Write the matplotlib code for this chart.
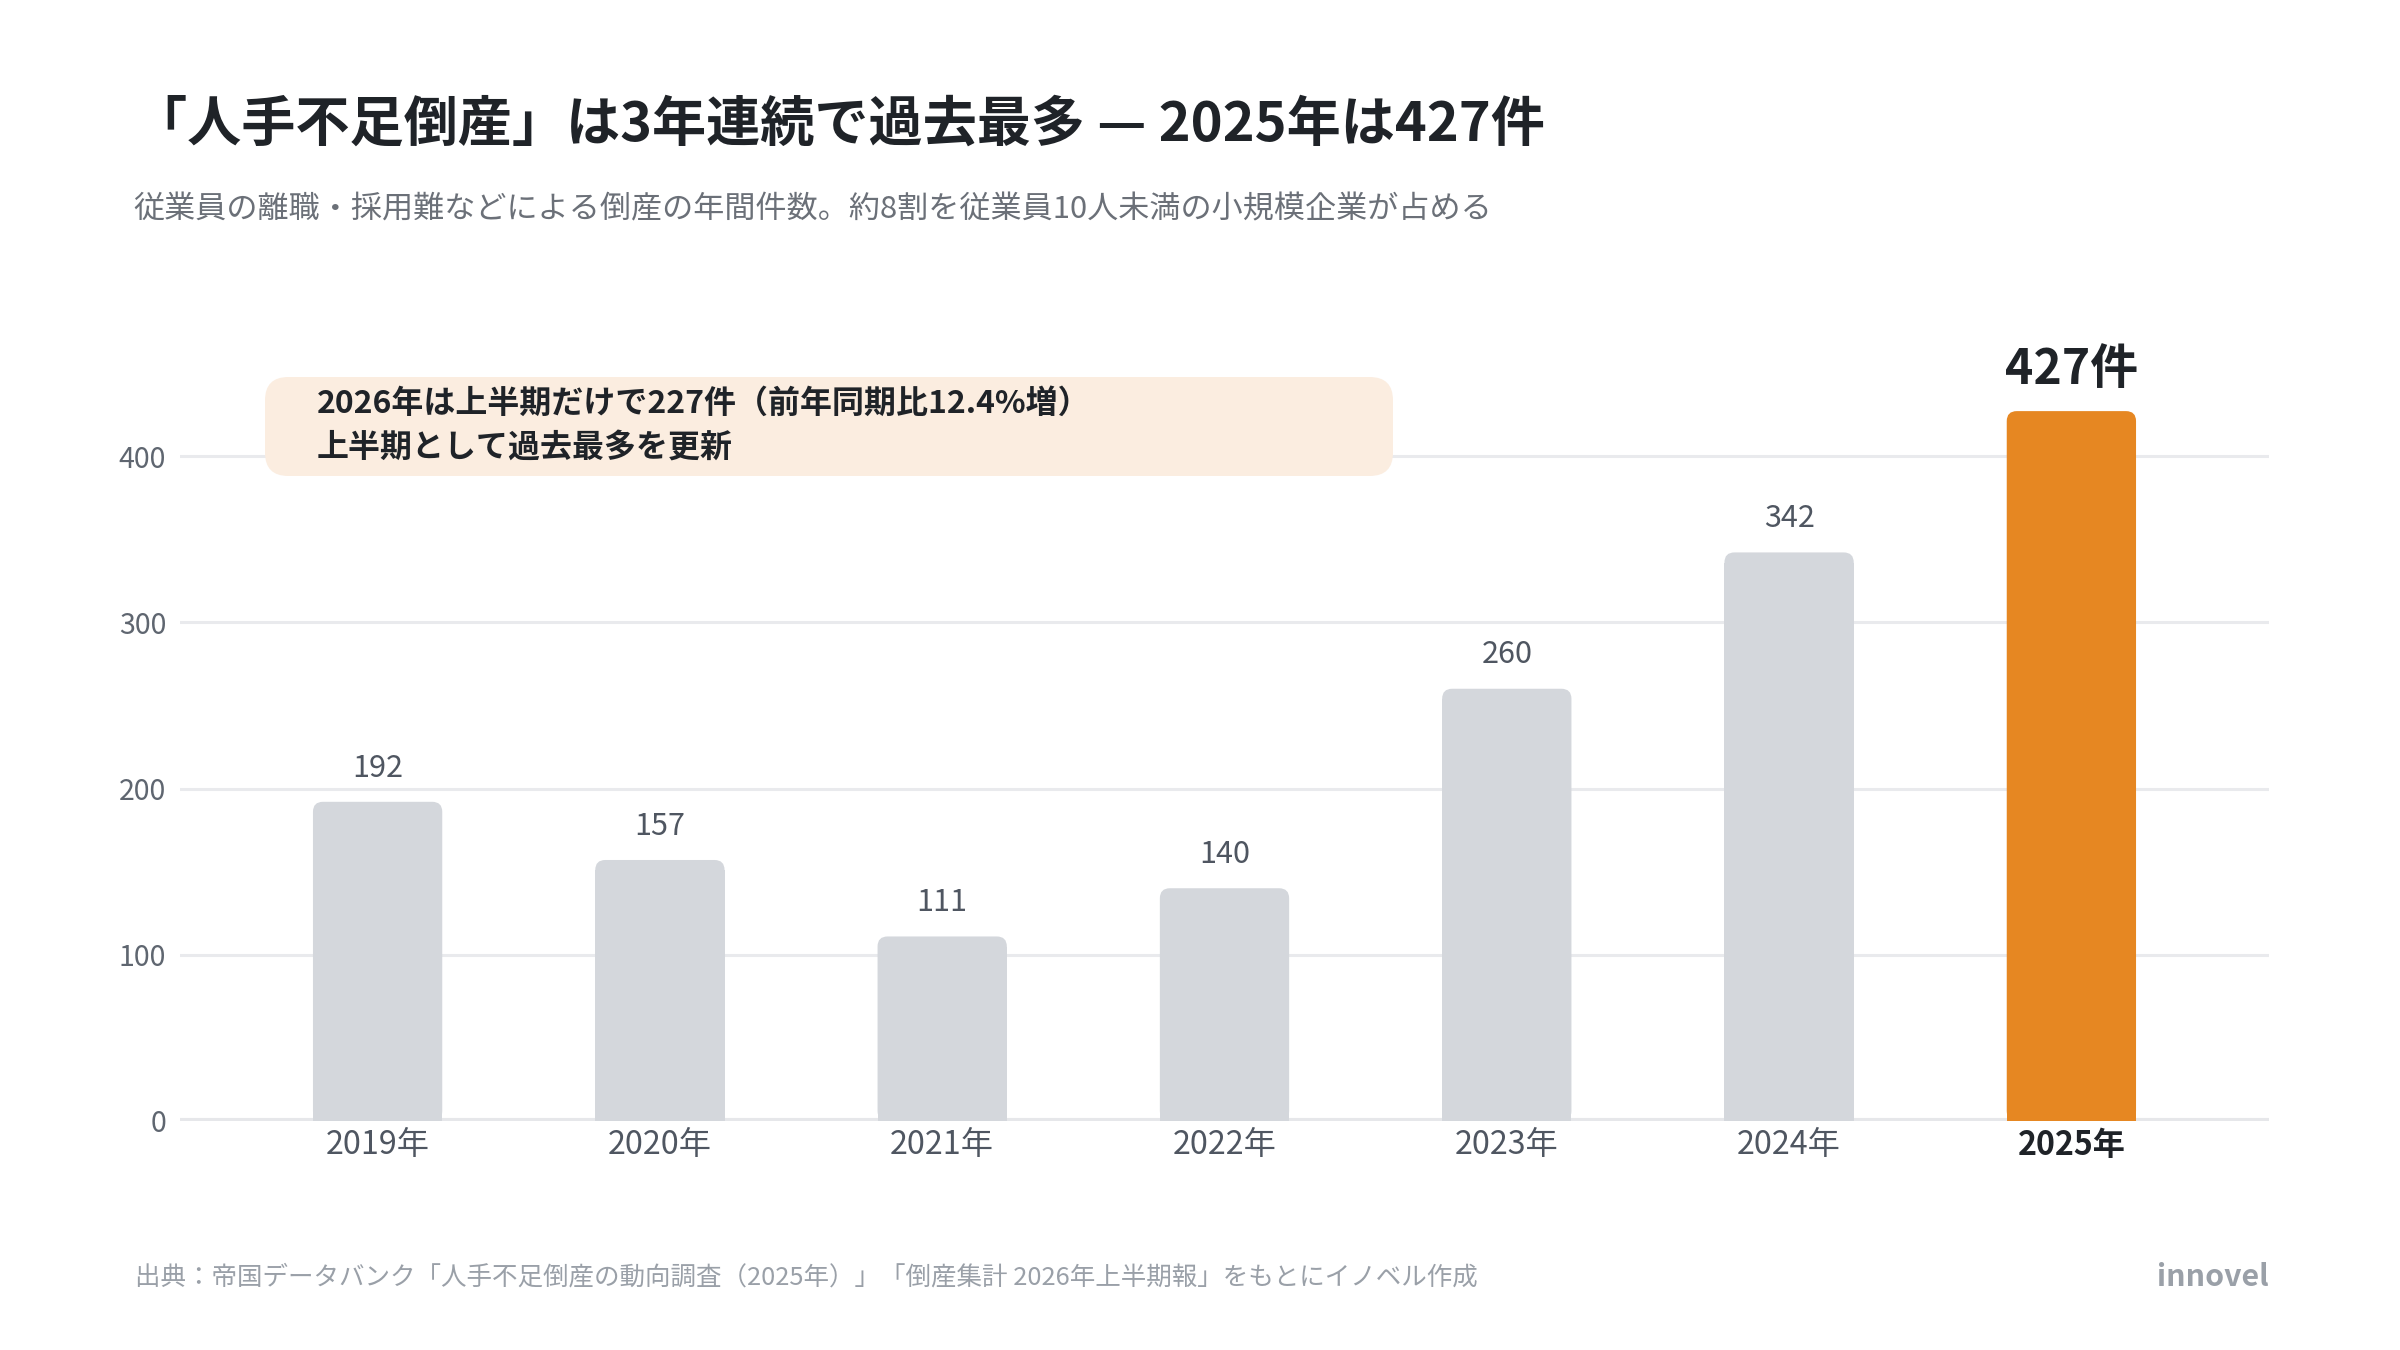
import matplotlib
matplotlib.use("Agg")
import matplotlib.pyplot as plt
from matplotlib.patches import FancyBboxPatch

years = ["2019年", "2020年", "2021年", "2022年", "2023年", "2024年", "2025年"]
counts = [192, 157, 111, 140, 260, 342, 427]
yticks = [0, 100, 200, 300, 400]

title = "「人手不足倒産」は3年連続で過去最多 — 2025年は427件"
subtitle = "従業員の離職・採用難などによる倒産の年間件数。約8割を従業員10人未満の小規模企業が占める"
note_lines = ["2026年は上半期だけで227件（前年同期比12.4%増）", "上半期として過去最多を更新"]
source = "出典：帝国データバンク「人手不足倒産の動向調査（2025年）」「倒産集計 2026年上半期報」をもとにイノベル作成"
brand = "innovel"

FAM = ["Noto Sans CJK JP", "DejaVu Sans"]
plt.rcParams['font.family'] = FAM

W, H = 2400, 1350
DPI = 200
fig = plt.figure(figsize=(W / DPI, H / DPI), dpi=DPI)
fig.patch.set_facecolor("white")

def fx(px):
    return px / W

def fy(py):
    return 1 - py / H

# axes placement: zero at y=1121px, 400 at y=456px, x from 180 to 2269
ymax = 470
y0_px = 1121
px_per_unit = (1121 - 456) / 400
top_px = y0_px - ymax * px_per_unit
ax = fig.add_axes([fx(180), fy(y0_px), fx(2269) - fx(180), (y0_px - top_px) / H])
ax.set_xlim(-0.7, len(years) - 0.3)
ax.set_ylim(0, ymax)

grey = "#d4d7dc"
orange = "#e68722"
colors = [grey] * (len(years) - 1) + [orange]
bw = 0.458

fig.canvas.draw()
inv = ax.transData.inverted()
p0 = inv.transform((0, 0))
p1 = inv.transform((1, 1))
xu_per_px = p1[0] - p0[0]
yu_per_px = p1[1] - p0[1]
r_px = 10
r_x = r_px * xu_per_px
aspect = yu_per_px / xu_per_px

for i, (v, c) in enumerate(zip(counts, colors)):
    ax.bar(i, v - r_px * yu_per_px * 1.05, width=bw, color=c, zorder=3, linewidth=0)
    p = FancyBboxPatch((i - bw / 2 + r_x, r_px * yu_per_px),
                       bw - 2 * r_x, v - 2 * r_px * yu_per_px,
                       boxstyle=f"round,pad={r_x},rounding_size={r_x}",
                       mutation_aspect=aspect, facecolor=c, edgecolor="none", zorder=3)
    ax.add_patch(p)
    if i == len(years) - 1:
        ax.text(i, v + 10, f"{v}件", ha="center", va="bottom", fontsize=17.3,
                fontweight="bold", color="#1f2328", family=FAM)
    else:
        ax.text(i, v + 11, f"{v}", ha="center", va="bottom", fontsize=11,
                color="#4f5661", family=FAM)

ax.set_yticks(yticks)
ax.set_yticklabels([str(t) for t in yticks], fontsize=10.3, color="#5f6670", family=FAM)
ax.set_xticks(range(len(years)))
ax.set_xticklabels(years, fontsize=11.6, color="#4f5661", family=FAM)
lbls = ax.get_xticklabels()
lbls[-1].set_fontweight("bold")
lbls[-1].set_color("#1f2328")
ax.tick_params(axis="both", length=0)
ax.tick_params(axis="x", pad=3)
ax.tick_params(axis="y", pad=5)
for s in ax.spines.values():
    s.set_visible(False)
ax.grid(axis="y", color="#e9eaed", linewidth=1.1, zorder=0)
ax.set_axisbelow(True)
ax.axhline(0, color="#e6e7ea", linewidth=2.2, zorder=2)

# title & subtitle
fig.text(fx(133), fy(125), title, fontsize=19.5, fontweight="bold", color="#1f2328",
         ha="left", va="center", family=FAM)
fig.text(fx(133), fy(210), subtitle, fontsize=11.2, color="#6b7078",
         ha="left", va="center", family=FAM)

# annotation box
bx0, by0, bx1, by1 = 265, 377, 1393, 476
rr = 0.0097
box = FancyBboxPatch((fx(bx0) + rr, fy(by1) + rr * W / H),
                     fx(bx1) - fx(bx0) - 2 * rr, (by1 - by0) / H - 2 * rr * W / H,
                     boxstyle=f"round,pad={rr},rounding_size={rr}",
                     mutation_aspect=W / H, transform=fig.transFigure,
                     facecolor="#fbede0", edgecolor="none", zorder=5)
fig.add_artist(box)
fig.text(fx(317), fy(404), note_lines[0], fontsize=11.5, fontweight="bold",
         color="#1f2328", ha="left", va="center", family=FAM, zorder=6)
fig.text(fx(317), fy(448), note_lines[1], fontsize=11.5, fontweight="bold",
         color="#1f2328", ha="left", va="center", family=FAM, zorder=6)

# footer
fig.text(fx(135), fy(1277), source, fontsize=9.2, color="#9aa0a8",
         ha="left", va="center", family=FAM)
fig.text(fx(2269), fy(1277), brand, fontsize=10.9, fontweight="bold", color="#9aa0a8",
         ha="right", va="center", family=FAM)

fig.savefig("out.png", dpi=DPI, facecolor="white")
